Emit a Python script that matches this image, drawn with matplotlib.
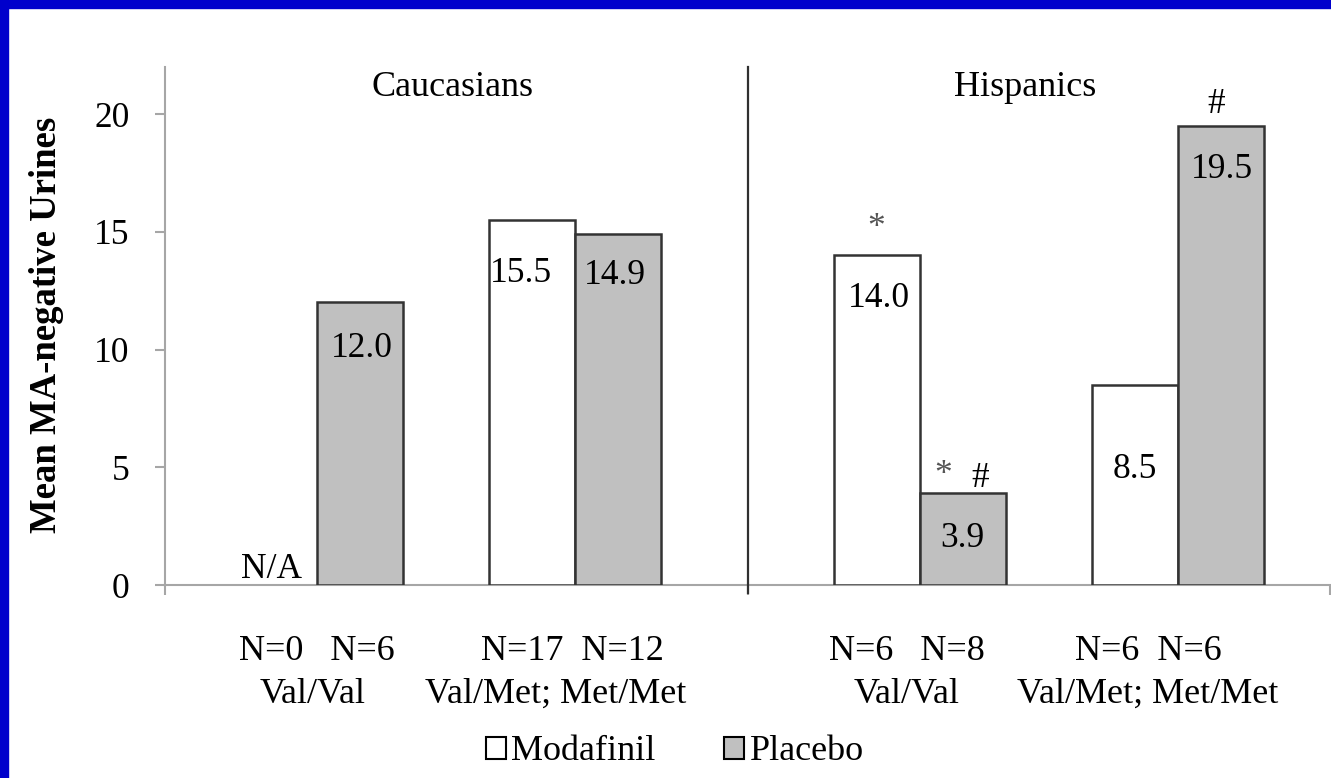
import numpy as np
import matplotlib
matplotlib.use("Agg")
import matplotlib.pyplot as plt
from matplotlib.patches import Rectangle, Patch

plt.rcParams['font.family'] = ['Liberation Serif', 'DejaVu Serif']

# data
regions = ['Caucasians', 'Hispanics']
genotypes = ['Val/Val', 'Val/Met; Met/Met', 'Val/Val', 'Val/Met; Met/Met']
modafinil = [np.nan, 15.5, 14.0, 8.5]
placebo = [12.0, 14.9, 3.9, 19.5]
n_modafinil = [0, 17, 6, 6]
n_placebo = [6, 12, 8, 6]

# layout (bar width = 1 unit, groups split by a divider at x=5)
centers = np.array([0, 3, 7, 10])
region_x = [1.57, 8.22]
x_lo, x_hi = -1.765, 11.765
n_gap = [3, 2, 3, 2]                       # spaces between the two N= labels
group_shift = [0, -3, -13, -30]            # px shift of the N line
geno_shift = [-4, -20, -13, -30]           # px shift of the genotype line
mod_drop = [None, 62, 52, 93]              # px from bar top to label baseline
pla_drop = [55, 50, 54, 52]
mod_dx = [0, -11, 2, 0]
pla_dx = [2, -3, 0, 1]

W, H = 1331, 778
fig = plt.figure(figsize=(W / 100, H / 100), dpi=100)
ax = fig.add_axes([165 / W, (H - 585) / H, (1330 - 165) / W, 518 / H])

axis_grey = '#A6A6A6'
edge = '#333333'
ax.bar(centers - 0.5, modafinil, width=1, color='white', edgecolor=edge, linewidth=1.8, zorder=3)
ax.bar(centers + 0.5, placebo, width=1, color='#C0C0C0', edgecolor=edge, linewidth=1.8, zorder=3)

ax.set_xlim(x_lo, x_hi)
ax.set_ylim(0, 22)
ax.set_yticks([0, 5, 10, 15, 20])
ax.set_xticks([x_lo, 5, x_hi])
ax.set_xticklabels([])
ax.tick_params(axis='both', direction='out', length=7.5, width=1.5, color=axis_grey)
ax.tick_params(axis='y', labelsize=25.5, pad=18)
for s in ['top', 'right']:
    ax.spines[s].set_visible(False)
for s in ['left', 'bottom']:
    ax.spines[s].set_color(axis_grey)
    ax.spines[s].set_linewidth(1.5)

# divider between the two ethnic groups
ax.plot([5, 5], [-0.35, 22], color='#303030', linewidth=1.6, clip_on=False, zorder=4)

for name, xr in zip(regions, region_x):
    ax.annotate(name, (xr, 22), xytext=(0, -(97 - 68)), textcoords='offset pixels',
                ha='center', va='baseline', fontsize=26)

# value labels inside the bars
for i in range(4):
    if np.isnan(modafinil[i]):
        ax.annotate('N/A', (centers[i] - 0.5, 0), xytext=(-2, 7), textcoords='offset pixels',
                    ha='center', va='baseline', fontsize=25.5)
    else:
        ax.annotate(f'{modafinil[i]:.1f}', (centers[i] - 0.5, modafinil[i]),
                    xytext=(mod_dx[i], -mod_drop[i]), textcoords='offset pixels',
                    ha='center', va='baseline', fontsize=25.5, zorder=5)
    ax.annotate(f'{placebo[i]:.1f}', (centers[i] + 0.5, placebo[i]),
                xytext=(pla_dx[i], -pla_drop[i]), textcoords='offset pixels',
                ha='center', va='baseline', fontsize=25.5, zorder=5)

# significance marks
marks = [(centers[2] - 0.5, modafinil[2], '*', -1, 18),
         (centers[2] + 0.5, placebo[2], '*', -20, 9),
         (centers[2] + 0.5, placebo[2], '#', 17, 6),
         (centers[3] + 0.5, placebo[3], '#', -5, 13)]
for x, y, t, dx, dy in marks:
    ax.annotate(t, (x, y), xytext=(dx, dy), textcoords='offset pixels', ha='center', va='baseline',
                fontsize=25.5, color='#555555' if t == '*' else 'black')

# category labels below the axis
for i in range(4):
    ntxt = f'N={n_modafinil[i]}' + ' ' * n_gap[i] + f'N={n_placebo[i]}'
    ax.annotate(ntxt, (centers[i], 0), xytext=(group_shift[i], -(660 - 585)), textcoords='offset pixels',
                ha='center', va='baseline', fontsize=26, annotation_clip=False)
    ax.annotate(genotypes[i], (centers[i], 0), xytext=(geno_shift[i], -(703 - 585)), textcoords='offset pixels',
                ha='center', va='baseline', fontsize=26, annotation_clip=False)

fig.text(47 / W, 1 - 325 / H, 'Mean MA-negative Urines', rotation=90, ha='center', va='center',
         fontsize=26.5, fontweight='bold')

handles = [Patch(facecolor='white', edgecolor='black', linewidth=1.5),
           Patch(facecolor='#C0C0C0', edgecolor='black', linewidth=1.5)]
fig.legend(handles, ['Modafinil', 'Placebo'], loc='center', bbox_to_anchor=(675 / W, 1 - 752 / H),
           ncol=2, frameon=False, fontsize=26, handlelength=0.55, handleheight=0.55,
           handletextpad=0.15, columnspacing=1.9, borderpad=0)

# blue slide frame (left and top edges)
blue = '#0000CC'
fig.patches.append(Rectangle((0, 0), 8 / W, 1, transform=fig.transFigure, color=blue, zorder=10))
fig.patches.append(Rectangle((0, 1 - 8 / H), 1, 8 / H, transform=fig.transFigure, color=blue, zorder=10))

fig.savefig('out.png', dpi=100, facecolor='white')
